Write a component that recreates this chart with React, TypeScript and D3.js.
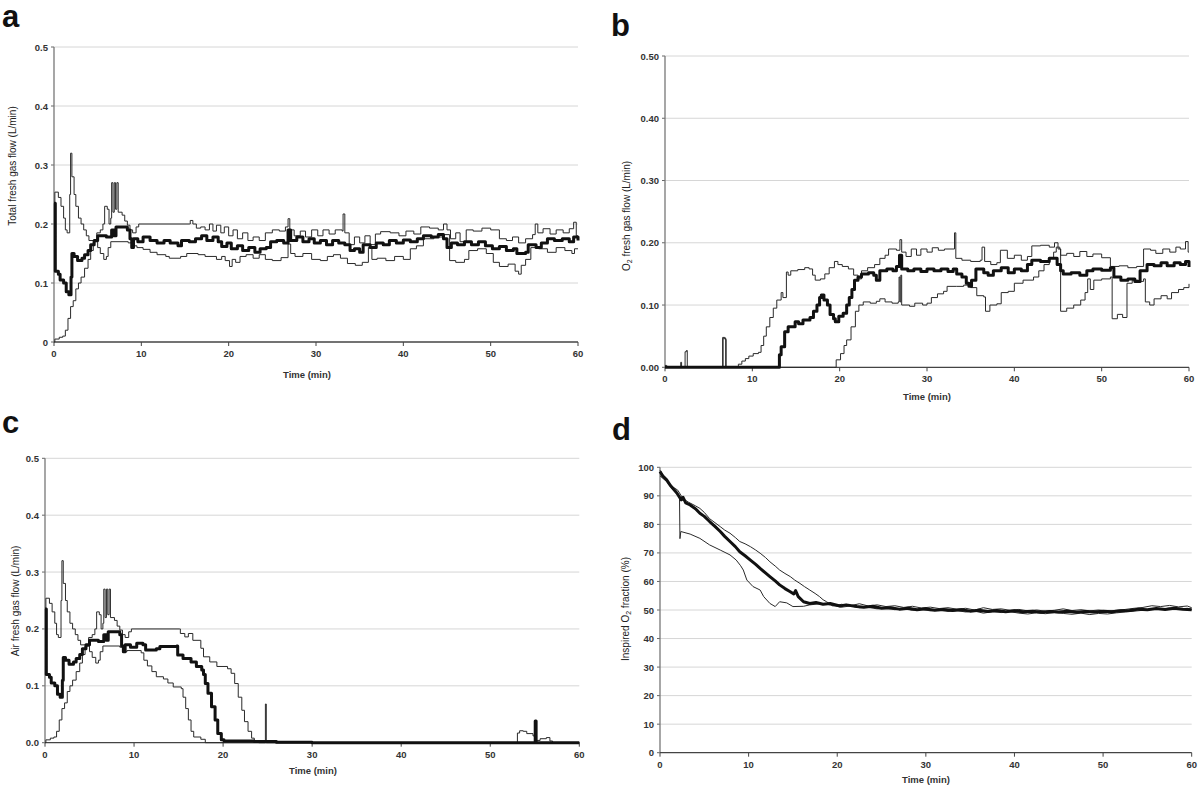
import React from "react";
import * as d3 from "d3";

type Pt = [number, number];

// ---------- axis ticks ----------
const timeTicks = [0, 10, 20, 30, 40, 50, 60];
const flowTicks = [0, 0.1, 0.2, 0.3, 0.4, 0.5];
const flowTickLabelsA = ["0", "0.1", "0.2", "0.3", "0.4", "0.5"];
const flowTickLabelsB = ["0.00", "0.10", "0.20", "0.30", "0.40", "0.50"];
const flowTickLabelsC = ["0.0", "0.1", "0.2", "0.3", "0.4", "0.5"];
const fio2Ticks = [0, 10, 20, 30, 40, 50, 60, 70, 80, 90, 100];
const fio2TickLabels = ["0", "10", "20", "30", "40", "50", "60", "70", "80", "90", "100"];

// ---------- panel a: total fresh gas flow (L/min) ----------
const totalMedian: Pt[] = [[0,0.235],[0.15,0.12],[0.5,0.115],[0.7,0.105],[1.1,0.1],[1.4,0.085],[1.7,0.08],[1.95,0.11],[2.05,0.15],[2.3,0.145],[2.7,0.138],[3.2,0.142],[3.5,0.148],[3.9,0.155],[4.2,0.165],[4.6,0.172],[5.0,0.18],[6.0,0.178],[6.6,0.19],[6.9,0.18],[7.1,0.195],[8.4,0.19],[8.7,0.175],[8.9,0.16],[9.1,0.175],[9.6,0.17],[10.2,0.178],[11,0.172],[11.8,0.168],[12.6,0.172],[13.3,0.168],[14.2,0.163],[14.6,0.172],[15.5,0.17],[16.2,0.175],[16.9,0.18],[17.5,0.172],[18.2,0.178],[18.8,0.17],[19.2,0.162],[19.8,0.168],[20.3,0.158],[21,0.163],[21.6,0.155],[22.3,0.16],[23,0.152],[23.6,0.158],[24.3,0.16],[24.8,0.17],[25.5,0.172],[26.3,0.168],[26.8,0.19],[27.1,0.172],[27.8,0.178],[28.5,0.17],[29.2,0.175],[29.8,0.168],[30.5,0.172],[31.2,0.165],[31.9,0.172],[32.6,0.168],[33.3,0.165],[33.9,0.155],[34.4,0.158],[35.0,0.152],[35.4,0.165],[36.2,0.16],[36.9,0.168],[37.7,0.165],[38.4,0.172],[39.2,0.168],[40,0.173],[40.8,0.17],[41.6,0.175],[42.3,0.18],[43.2,0.178],[44,0.182],[44.6,0.175],[45,0.16],[45.5,0.168],[46.2,0.165],[47,0.17],[47.8,0.165],[48.6,0.17],[49.4,0.163],[50.2,0.158],[51,0.162],[51.8,0.155],[52.6,0.158],[53,0.15],[54,0.152],[54.3,0.165],[55.2,0.16],[55.8,0.168],[56.5,0.175],[57.3,0.172],[58.2,0.175],[59,0.17],[59.5,0.178],[60,0.172]];
const totalHighStart: Pt[] = [[0,0.235],[0.1,0.254],[0.5,0.245],[0.8,0.23],[1.1,0.21],[1.3,0.19],[1.5,0.185],[1.8,0.25],[1.9,0.32],[2.05,0.28],[2.3,0.25],[2.5,0.23],[2.8,0.21],[3.1,0.2],[3.4,0.19],[3.7,0.18],[4.0,0.172],[4.6,0.17],[5.0,0.16],[5.3,0.15],[5.7,0.14],[6.0,0.145],[6.2,0.16],[6.5,0.17],[8.5,0.168],[9.0,0.163],[9.5,0.16],[10.2,0.157],[11,0.152],[11.8,0.148],[12.8,0.145],[13.2,0.142],[14.5,0.145],[15.2,0.15],[16.5,0.148],[17.3,0.145],[18.6,0.14],[19.2,0.145],[19.6,0.138],[20.1,0.128],[20.4,0.14],[20.8,0.135],[21.3,0.145],[22,0.148],[22.8,0.142],[23.5,0.148],[24.2,0.14],[25,0.138],[26,0.143],[26.8,0.166],[27.1,0.15],[27.6,0.145],[28.5,0.15],[29.5,0.14],[30.5,0.138],[31.3,0.145],[32,0.148],[32.8,0.142],[33.6,0.133],[34.5,0.13],[35.3,0.135],[36,0.16],[36.4,0.14],[37,0.142],[38,0.138],[39,0.145],[40,0.14],[40.8,0.158],[41.5,0.163],[42.3,0.175],[43.5,0.178],[44.5,0.182],[45.3,0.138],[46,0.135],[47,0.14],[47.5,0.155],[48.5,0.158],[49.5,0.15],[50.3,0.135],[51,0.128],[52,0.132],[52.8,0.12],[53.2,0.115],[53.5,0.13],[54,0.14],[54.6,0.16],[55.5,0.158],[56.5,0.152],[57.5,0.16],[58.5,0.155],[59.3,0.15],[59.6,0.158],[60,0.158]];
const totalLowStart: Pt[] = [[0,0.0],[0.1,0.005],[0.6,0.008],[1.0,0.01],[1.3,0.02],[1.6,0.04],[1.9,0.06],[2.2,0.07],[2.5,0.09],[2.8,0.1],[3.1,0.11],[3.5,0.125],[3.9,0.14],[4.2,0.155],[4.5,0.17],[4.9,0.185],[5.3,0.19],[5.6,0.2],[5.8,0.23],[6.1,0.225],[6.3,0.2],[6.5,0.21],[6.6,0.27],[6.75,0.22],[6.9,0.27],[7.05,0.225],[7.2,0.27],[7.35,0.22],[7.8,0.215],[8.1,0.205],[8.4,0.198],[8.7,0.19],[9.0,0.185],[9.4,0.195],[9.7,0.2],[15.5,0.2],[15.6,0.206],[15.9,0.2],[16.3,0.193],[16.8,0.195],[17.3,0.19],[17.8,0.2],[18.2,0.188],[18.6,0.198],[19.1,0.185],[19.5,0.195],[20,0.18],[20.5,0.19],[21,0.175],[21.6,0.185],[22.2,0.172],[22.8,0.178],[23.5,0.172],[24.2,0.185],[25,0.19],[25.8,0.188],[26.5,0.195],[26.8,0.209],[27.0,0.19],[27.5,0.18],[28.2,0.188],[28.8,0.178],[29.5,0.19],[30.2,0.18],[30.8,0.19],[31.5,0.183],[32.2,0.19],[33.0,0.188],[33.1,0.217],[33.3,0.185],[33.8,0.165],[34.4,0.178],[35,0.168],[35.6,0.18],[36.2,0.165],[36.8,0.183],[37.4,0.187],[38.5,0.185],[39.5,0.18],[40.3,0.188],[41.2,0.183],[42,0.195],[43,0.193],[44,0.19],[44.6,0.2],[45,0.19],[45.4,0.175],[46,0.185],[46.5,0.17],[47.2,0.19],[48,0.188],[49,0.193],[50,0.19],[51,0.175],[51.8,0.172],[52.5,0.178],[53.2,0.168],[54,0.175],[54.8,0.182],[55.1,0.2],[55.4,0.185],[56,0.192],[56.8,0.183],[57.5,0.19],[58.3,0.185],[59,0.192],[59.5,0.203],[59.8,0.18],[60,0.18]];

// ---------- panel b: O2 fresh gas flow (L/min) ----------
const o2Median: Pt[] = [[0,0],[12.9,0],[13.1,0.02],[13.3,0.033],[13.7,0.057],[14.1,0.065],[14.9,0.073],[15.3,0.07],[15.8,0.076],[16.6,0.08],[17,0.09],[17.4,0.1],[17.7,0.112],[17.9,0.116],[18.2,0.108],[18.6,0.1],[18.9,0.085],[19.3,0.078],[19.5,0.073],[19.9,0.082],[20.4,0.087],[20.8,0.1],[21.1,0.112],[21.4,0.125],[21.7,0.14],[22.1,0.145],[22.5,0.15],[23.3,0.152],[23.9,0.148],[24.2,0.14],[24.6,0.155],[25.4,0.158],[26.1,0.155],[26.5,0.162],[26.85,0.18],[27.1,0.158],[27.8,0.155],[28.5,0.158],[29.3,0.154],[30,0.158],[30.8,0.155],[31.6,0.158],[32.4,0.154],[33,0.158],[33.4,0.15],[34,0.145],[34.5,0.135],[34.8,0.13],[35.1,0.14],[35.6,0.158],[36.5,0.152],[37,0.148],[37.6,0.155],[38.5,0.16],[39.3,0.152],[40,0.158],[40.8,0.155],[41.5,0.165],[42,0.172],[43,0.17],[44,0.175],[44.9,0.165],[45.3,0.155],[45.6,0.15],[46.5,0.152],[47.5,0.148],[48.3,0.155],[49,0.158],[50,0.156],[51,0.16],[51.4,0.145],[52.2,0.14],[53,0.142],[53.8,0.138],[54.4,0.155],[55.2,0.165],[56,0.163],[56.8,0.168],[57.5,0.163],[58.3,0.168],[59,0.165],[59.6,0.17],[60,0.161]];
const o2EarlyRise: Pt[] = [[0,0.003],[0.2,0],[1.7,0],[1.8,0.008],[1.9,0],[2.25,0],[2.3,0.025],[2.45,0.027],[2.55,0],[6.5,0],[6.6,0.048],[6.85,0.047],[6.95,0],[8.1,0],[8.4,0.005],[8.8,0.01],[9.2,0.014],[9.6,0.018],[10.1,0.022],[10.7,0.024],[11.0,0.035],[11.3,0.05],[11.6,0.065],[12.0,0.08],[12.4,0.095],[12.8,0.108],[13.3,0.12],[13.5,0.112],[13.9,0.153],[14.1,0.148],[14.4,0.155],[15.2,0.157],[16.0,0.16],[16.5,0.158],[16.9,0.148],[17.2,0.14],[17.8,0.142],[18.3,0.15],[18.8,0.16],[19.4,0.17],[19.8,0.165],[20.3,0.162],[21,0.158],[21.6,0.148],[22.1,0.142],[22.5,0.155],[23.2,0.16],[24.0,0.165],[24.6,0.175],[25.2,0.18],[25.6,0.19],[26.5,0.188],[26.9,0.205],[27.1,0.185],[27.6,0.178],[28.2,0.19],[28.8,0.18],[29.3,0.19],[30,0.185],[30.6,0.192],[31.3,0.188],[32,0.19],[33.1,0.19],[33.15,0.216],[33.3,0.175],[34,0.172],[35,0.17],[36.1,0.172],[36.3,0.193],[36.6,0.17],[37.3,0.165],[38,0.168],[38.4,0.188],[39.2,0.175],[40,0.18],[40.8,0.172],[41.5,0.178],[42,0.195],[43,0.196],[44,0.193],[44.6,0.2],[45,0.19],[45.3,0.18],[46,0.183],[46.8,0.178],[47.5,0.186],[48.3,0.178],[49,0.182],[50,0.176],[51,0.162],[52,0.163],[53,0.16],[54,0.162],[54.8,0.19],[55.6,0.188],[56.2,0.183],[57,0.19],[57.8,0.185],[58.5,0.193],[59,0.19],[59.6,0.202],[59.9,0.185],[60,0.185]];
const o2LateRise: Pt[] = [[0,0],[6.55,0],[6.65,0.046],[6.9,0.045],[7.0,0],[19.3,0],[19.6,0.012],[20.1,0.022],[20.5,0.035],[20.8,0.044],[21.3,0.065],[21.8,0.09],[22.2,0.1],[22.7,0.105],[23.5,0.103],[24.2,0.106],[24.6,0.11],[25.2,0.105],[26,0.103],[26.7,0.105],[26.8,0.145],[26.9,0.105],[27.0,0.148],[27.1,0.1],[28,0.098],[28.6,0.103],[29.5,0.1],[30,0.103],[30.5,0.112],[31.2,0.118],[31.9,0.122],[32.3,0.13],[33.4,0.13],[34.2,0.132],[35,0.128],[35.7,0.115],[36.5,0.113],[36.7,0.09],[37.2,0.1],[38,0.102],[38.5,0.12],[39.3,0.122],[40,0.135],[41,0.14],[42.2,0.145],[42.8,0.155],[43.4,0.165],[44,0.175],[44.5,0.185],[44.8,0.193],[45.2,0.19],[45.3,0.09],[46,0.095],[46.8,0.1],[47.6,0.108],[48.1,0.12],[48.4,0.142],[48.7,0.125],[49.1,0.14],[50,0.142],[51,0.145],[51.2,0.078],[51.8,0.085],[52.4,0.08],[52.9,0.135],[53.5,0.14],[54.2,0.138],[54.8,0.142],[55,0.105],[55.5,0.1],[56,0.11],[56.8,0.115],[57.5,0.11],[58,0.12],[58.8,0.125],[59.4,0.128],[60,0.134]];

// ---------- panel c: air fresh gas flow (L/min) ----------
const airMedian: Pt[] = [[0,0.235],[0.15,0.12],[0.5,0.115],[0.7,0.105],[1.1,0.1],[1.4,0.085],[1.7,0.08],[1.95,0.11],[2.05,0.15],[2.3,0.145],[2.7,0.138],[3.2,0.142],[3.5,0.148],[3.9,0.155],[4.2,0.165],[4.6,0.172],[5.0,0.18],[6.0,0.178],[6.6,0.19],[6.9,0.18],[7.1,0.195],[8.4,0.19],[8.6,0.17],[8.8,0.16],[9.0,0.172],[9.6,0.168],[10.3,0.175],[11,0.172],[11.3,0.163],[12.5,0.165],[12.9,0.169],[14.8,0.17],[14.9,0.154],[15.5,0.148],[16.4,0.142],[17,0.134],[17.6,0.128],[17.8,0.12],[18,0.104],[18.3,0.087],[18.7,0.063],[19.1,0.04],[19.4,0.016],[19.8,0.005],[20.1,0.003],[23,0.003],[23.5,0.002],[26,0.001],[30,0],[55,0],[55.05,0.038],[55.15,0],[60,0]];
const airHighStart: Pt[] = [[0,0.235],[0.1,0.254],[0.5,0.245],[0.8,0.23],[1.1,0.21],[1.3,0.19],[1.5,0.185],[1.8,0.25],[1.9,0.32],[2.05,0.28],[2.3,0.25],[2.5,0.23],[2.8,0.21],[3.1,0.2],[3.4,0.19],[3.7,0.18],[4.0,0.172],[4.6,0.17],[5.0,0.16],[5.3,0.15],[5.7,0.14],[6.0,0.145],[6.2,0.16],[6.5,0.17],[8.4,0.168],[8.8,0.16],[9.2,0.162],[10.8,0.158],[11.1,0.145],[11.5,0.135],[12,0.125],[12.5,0.116],[13.3,0.112],[13.8,0.105],[14.4,0.098],[15.3,0.095],[15.5,0.08],[15.8,0.06],[16.1,0.04],[16.4,0.02],[16.7,0.01],[17.5,0.006],[18,0],[53,0],[53.05,0.017],[53.3,0.021],[53.7,0.02],[54.1,0.016],[54.8,0.012],[55.2,0.004],[55.6,0.007],[56.3,0.009],[56.7,0.003],[57,0],[60,0]];
const airLowStart: Pt[] = [[0,0.0],[0.1,0.005],[0.6,0.008],[1.0,0.01],[1.3,0.02],[1.6,0.04],[1.9,0.06],[2.2,0.07],[2.5,0.09],[2.8,0.1],[3.1,0.11],[3.5,0.125],[3.9,0.14],[4.2,0.155],[4.5,0.17],[4.9,0.185],[5.3,0.19],[5.6,0.2],[5.8,0.23],[6.1,0.225],[6.3,0.2],[6.5,0.21],[6.6,0.27],[6.75,0.22],[6.9,0.27],[7.05,0.225],[7.2,0.27],[7.35,0.22],[7.8,0.215],[8.1,0.205],[8.4,0.198],[8.7,0.19],[9.0,0.185],[9.4,0.195],[9.7,0.2],[15.1,0.2],[15.2,0.192],[15.7,0.186],[16.1,0.192],[16.6,0.18],[17.5,0.166],[17.8,0.151],[18.5,0.142],[19.3,0.134],[20.5,0.13],[20.9,0.122],[21.3,0.104],[21.7,0.08],[22.1,0.057],[22.4,0.037],[22.8,0.02],[23.2,0.008],[23.5,0.002],[24,0],[24.7,0],[24.75,0.068],[24.85,0],[60,0]];

// ---------- panel d: inspired O2 fraction (%) ----------
const fio2Median: Pt[] = [[0,98.5],[0.3,97],[0.75,95.6],[1.2,93.5],[1.9,91],[2.4,88.6],[2.6,89.5],[2.9,87.5],[3.4,86.8],[4,85.5],[4.5,83.9],[5,82.8],[5.6,81],[6.2,79.3],[6.8,77.5],[7.3,75.8],[7.9,74],[8.5,72.2],[9,70.4],[9.6,69],[10.2,67.5],[10.8,66],[11.3,64.6],[11.9,63],[12.4,61.7],[13,60.2],[13.5,58.8],[14.1,57.5],[14.7,56.4],[15.1,55.6],[15.3,56.8],[15.6,54.7],[16.2,52.9],[16.9,52.3],[17.6,52.6],[18.4,52],[19.2,52.3],[20.3,51.4],[21,51.8],[22.2,51.2],[23,51],[24,51.3],[25,50.6],[26,50.8],[27,50.3],[28,50.6],[29,50.1],[30,50.4],[31,49.9],[32,50.2],[33,49.8],[34,50.1],[35,49.6],[36,49.9],[37,49.5],[38,49.8],[39,49.4],[40,49.7],[41,49.4],[42,49.6],[43,49.2],[44,49.5],[45,49.3],[46,49.6],[47,49.2],[48,49.5],[49,49.3],[50,49.6],[51,49.4],[52,49.7],[53,49.8],[54,50.3],[55,50.1],[56,50.5],[57,50.2],[58,50.6],[59,50.3],[60,50.1]];
const fio2Slow: Pt[] = [[0,99],[0.5,96.5],[1.1,93.8],[2,92],[2.6,89],[3.2,87.8],[4,86.5],[4.5,85.6],[5,84.2],[5.6,82],[6.2,80.6],[6.8,79.2],[7.3,78],[7.9,76.9],[8.5,75.4],[9,74],[9.6,73.2],[10.2,72.2],[10.8,71],[11.3,69.9],[11.9,68.4],[12.4,66.9],[13,65.4],[13.5,64],[14.1,62.8],[14.7,61.7],[15.2,60.5],[15.8,59.3],[16.3,58.2],[16.9,57],[17.5,55.8],[18,54.7],[18.4,53.6],[18.8,52.9],[19.5,51.4],[20.5,52],[21.5,51.5],[22.5,52.2],[23.5,51.4],[24.5,51.8],[25.5,51.2],[26.5,51.5],[27.5,50.9],[28.5,51.3],[29.5,50.7],[30.5,51],[31.5,50.5],[32.5,50.8],[33.5,50.3],[34.5,50.6],[35.5,50],[36.5,50.8],[37.5,50.2],[38.5,50.4],[39.5,49.9],[40.5,50.2],[41.5,49.7],[42.5,50],[43.5,49.6],[44.5,49.9],[45.5,50.4],[46.5,49.8],[47.5,50.1],[48.5,49.7],[49.5,50],[50.5,49.6],[51.5,49.9],[52.5,50.2],[53.5,50.6],[54.5,50.9],[55.5,51.5],[56.5,51.2],[57.5,51.6],[58.5,51.1],[59.5,51.4],[60,50.8]];
const fio2Fast: Pt[] = [[0,97],[0.75,95],[1.5,92],[2.2,89.7],[2.25,75],[2.35,77.5],[3.4,76.6],[4.5,75.1],[5.6,72.8],[6.8,71],[7.9,69.3],[8.6,67.5],[9.1,65.5],[9.4,64],[9.8,60.5],[10.5,58.2],[11.3,57],[11.7,54.7],[12.4,52.3],[13,51.2],[13.5,52.9],[14.3,52.5],[15,51.2],[16.2,51.3],[16.9,51.8],[18.4,52.3],[19.5,51.6],[20.5,51],[21.5,51.4],[22.5,50.8],[23.5,50.9],[24.5,50.4],[25.5,50.7],[26.5,50.1],[27.5,50.4],[28.5,49.9],[29.5,50.2],[30.5,49.7],[31.5,50],[32.5,49.5],[33.5,49.8],[34.5,49.3],[35.5,49.6],[36.5,48.9],[37.5,49.4],[38.5,49.1],[39.5,49.4],[40.5,48.9],[41.5,48.6],[42.5,49],[43.5,48.7],[44.5,49.1],[45.5,48.8],[46.5,48.5],[47.5,48.9],[48.5,48.4],[49.5,48.8],[50.5,48.6],[51.5,49],[52.5,49.3],[53.5,49.6],[54.5,49.9],[55.5,50.4],[56.5,50.2],[57.5,50.7],[58.5,50.3],[59.5,50.6],[60,50.2]];

const FONT = "'Liberation Sans', Arial, Helvetica, sans-serif";

interface PanelProps {
  letter: string;
  letterX: number;
  letterY: number;
  x0: number;
  x1: number;
  yTop: number;
  yBot: number;
  yMax: number;
  yTicks: number[];
  yLabels: string[];
  yTitle: React.ReactNode;
  yTitleX: number;
  yTitleY: number;
  xTitleX: number;
  xTitleY: number;
  thin: Pt[][];
  median: Pt[];
  step: boolean;
}

function Panel(p: PanelProps) {
  const x = d3.scaleLinear().domain([0, 60]).range([p.x0, p.x1]);
  const y = d3.scaleLinear().domain([0, p.yMax]).range([p.yBot, p.yTop]);
  const line = d3
    .line<Pt>()
    .x((d) => x(d[0]))
    .y((d) => y(d[1]))
    .curve(p.step ? d3.curveStepAfter : d3.curveLinear);
  return (
    <g fontFamily={FONT}>
      <text x={p.letterX} y={p.letterY} fontSize={31} fontWeight="bold" fill="#111">
        {p.letter}
      </text>
      {p.yTicks.map((t, i) =>
        i === 0 ? null : (
          <line key={"g" + i} x1={p.x0} x2={p.x1} y1={y(t)} y2={y(t)} stroke="#d6d6d6" strokeWidth={1} />
        )
      )}
      {p.yTicks.map((t, i) => (
        <g key={"yt" + i}>
          <line x1={p.x0 - 3} x2={p.x0} y1={y(t)} y2={y(t)} stroke="#666" strokeWidth={1} />
          <text x={p.x0 - 6} y={y(t) + 3.5} fontSize={9.5} fontWeight="bold" fill="#333" textAnchor="end">
            {p.yLabels[i]}
          </text>
        </g>
      ))}
      {timeTicks.map((t) => (
        <g key={"xt" + t}>
          <line x1={x(t)} x2={x(t)} y1={p.yBot} y2={p.yBot + 4} stroke="#444" strokeWidth={1} />
          <text x={x(t)} y={p.yBot + 15} fontSize={9.5} fontWeight="bold" fill="#333" textAnchor="middle">
            {t}
          </text>
        </g>
      ))}
      <line x1={p.x0} x2={p.x0} y1={p.yTop} y2={p.yBot} stroke="#777" strokeWidth={1.3} />
      <line x1={p.x0} x2={p.x1} y1={p.yBot} y2={p.yBot} stroke="#444" strokeWidth={1.3} />
      {p.thin.map((s, i) => (
        <path key={"s" + i} d={line(s) || ""} fill="none" stroke="#2a2a2a" strokeWidth={1} />
      ))}
      <path d={line(p.median) || ""} fill="none" stroke="#111" strokeWidth={3} strokeLinejoin="round" />
      <text x={p.xTitleX} y={p.xTitleY} fontSize={9.5} fontWeight="bold" fill="#333" textAnchor="middle">
        Time (min)
      </text>
      <text
        transform={`translate(${p.yTitleX},${p.yTitleY}) rotate(-90)`}
        fontSize={10}
        fill="#222"
        textAnchor="middle"
      >
        {p.yTitle}
      </text>
    </g>
  );
}

export default function App() {
  return (
    <svg
      width={1200}
      height={787}
      style={{ position: "absolute", left: 0, top: 0, background: "#fff" }}
    >
      <rect x={0} y={0} width={1200} height={787} fill="#fff" />
      <Panel
        letter="a"
        letterX={2}
        letterY={27}
        x0={54}
        x1={578}
        yTop={47}
        yBot={342}
        yMax={0.5}
        yTicks={flowTicks}
        yLabels={flowTickLabelsA}
        yTitle="Total fresh gas flow (L/min)"
        yTitleX={16}
        yTitleY={166}
        xTitleX={307}
        xTitleY={378}
        thin={[totalHighStart, totalLowStart]}
        median={totalMedian}
        step={true}
      />
      <Panel
        letter="b"
        letterX={611}
        letterY={36}
        x0={665}
        x1={1189}
        yTop={56}
        yBot={367.3}
        yMax={0.5}
        yTicks={flowTicks}
        yLabels={flowTickLabelsB}
        yTitle={
          <>
            <tspan>O</tspan>
            <tspan fontSize={7} dy={2}>2</tspan>
            <tspan dy={-2}> fresh gas flow (L/min)</tspan>
          </>
        }
        yTitleX={630}
        yTitleY={216}
        xTitleX={927}
        xTitleY={400}
        thin={[o2EarlyRise, o2LateRise]}
        median={o2Median}
        step={true}
      />
      <Panel
        letter="c"
        letterX={2}
        letterY={433}
        x0={45}
        x1={579.3}
        yTop={458.3}
        yBot={742.7}
        yMax={0.5}
        yTicks={flowTicks}
        yLabels={flowTickLabelsC}
        yTitle="Air fresh gas flow (L/min)"
        yTitleX={19}
        yTitleY={601}
        xTitleX={313}
        xTitleY={774}
        thin={[airHighStart, airLowStart]}
        median={airMedian}
        step={true}
      />
      <Panel
        letter="d"
        letterX={612}
        letterY={440}
        x0={660}
        x1={1191.7}
        yTop={467.3}
        yBot={752.7}
        yMax={100}
        yTicks={fio2Ticks}
        yLabels={fio2TickLabels}
        yTitle={
          <>
            <tspan>Inspired O</tspan>
            <tspan fontSize={7} dy={2}>2</tspan>
            <tspan dy={-2}> fraction (%)</tspan>
          </>
        }
        yTitleX={629}
        yTitleY={609}
        xTitleX={926}
        xTitleY={783}
        thin={[fio2Slow, fio2Fast]}
        median={fio2Median}
        step={false}
      />
    </svg>
  );
}
